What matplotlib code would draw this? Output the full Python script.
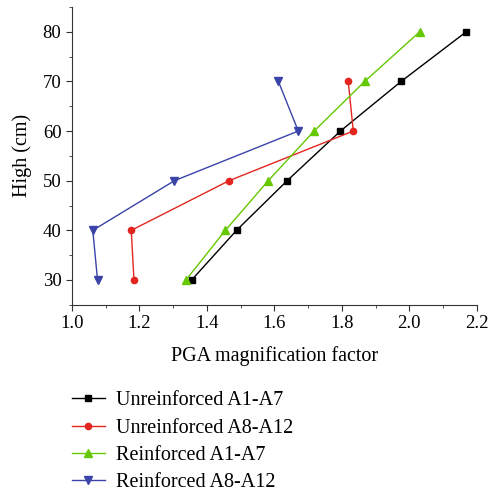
import matplotlib
matplotlib.use("Agg")
import matplotlib.pyplot as plt
from matplotlib.ticker import MultipleLocator, FormatStrFormatter

plt.rcParams['font.family'] = ['Liberation Serif', 'DejaVu Serif']

heights_a = [30, 40, 50, 60, 70, 80]
heights_b = [30, 40, 50, 60, 70]
unreinf_a1_a7 = [1.355, 1.488, 1.638, 1.796, 1.976, 2.169]
unreinf_a8_a12 = [1.184, 1.176, 1.466, 1.834, 1.819]
reinf_a1_a7 = [1.338, 1.455, 1.582, 1.718, 1.868, 2.031]
reinf_a8_a12 = [1.076, 1.062, 1.304, 1.671, 1.612]

fig = plt.figure(figsize=(4.89, 4.94), dpi=100)
ax = fig.add_axes([0.147, 0.383, 0.828, 0.603])

l1, = ax.plot(unreinf_a1_a7, heights_a, color='black', marker='s', ms=4.5, lw=1, label='Unreinforced A1-A7')
l2, = ax.plot(unreinf_a8_a12, heights_b, color='#e2261f', marker='o', ms=4.5, lw=1, label='Unreinforced A8-A12')
l3, = ax.plot(reinf_a1_a7, heights_a, color='#66c800', marker='^', ms=6, lw=1, label='Reinforced A1-A7')
l4, = ax.plot(reinf_a8_a12, heights_b, color='#3a44a8', marker='v', ms=6, lw=1, label='Reinforced A8-A12')

ax.set_xlim(1.0, 2.2)
ax.set_ylim(25, 85)
ax.xaxis.set_major_locator(MultipleLocator(0.2))
ax.xaxis.set_minor_locator(MultipleLocator(0.1))
ax.yaxis.set_major_locator(MultipleLocator(10))
ax.yaxis.set_minor_locator(MultipleLocator(5))
ax.tick_params(which='both', direction='out', labelsize=13.5, color='#333333', pad=3)
ax.tick_params(which='major', length=4.5)
ax.tick_params(which='minor', length=2.5)
ax.spines['top'].set_visible(False)
ax.spines['right'].set_visible(False)
for s in ['left', 'bottom']:
    ax.spines[s].set_color('#333333')
ax.set_xlabel('PGA magnification factor', fontsize=14.5, labelpad=10)
ax.set_ylabel('High (cm)', fontsize=14.5, labelpad=8)
ax.xaxis.set_major_formatter(FormatStrFormatter('%.1f'))

fig.legend(handles=[l1, l2, l3, l4], loc='upper left', bbox_to_anchor=(0.13, 0.224),
           frameon=False, fontsize=14.5, handlelength=1.65, handletextpad=0.55,
           labelspacing=0.4, borderaxespad=0)

fig.savefig('out.png', dpi=100)
